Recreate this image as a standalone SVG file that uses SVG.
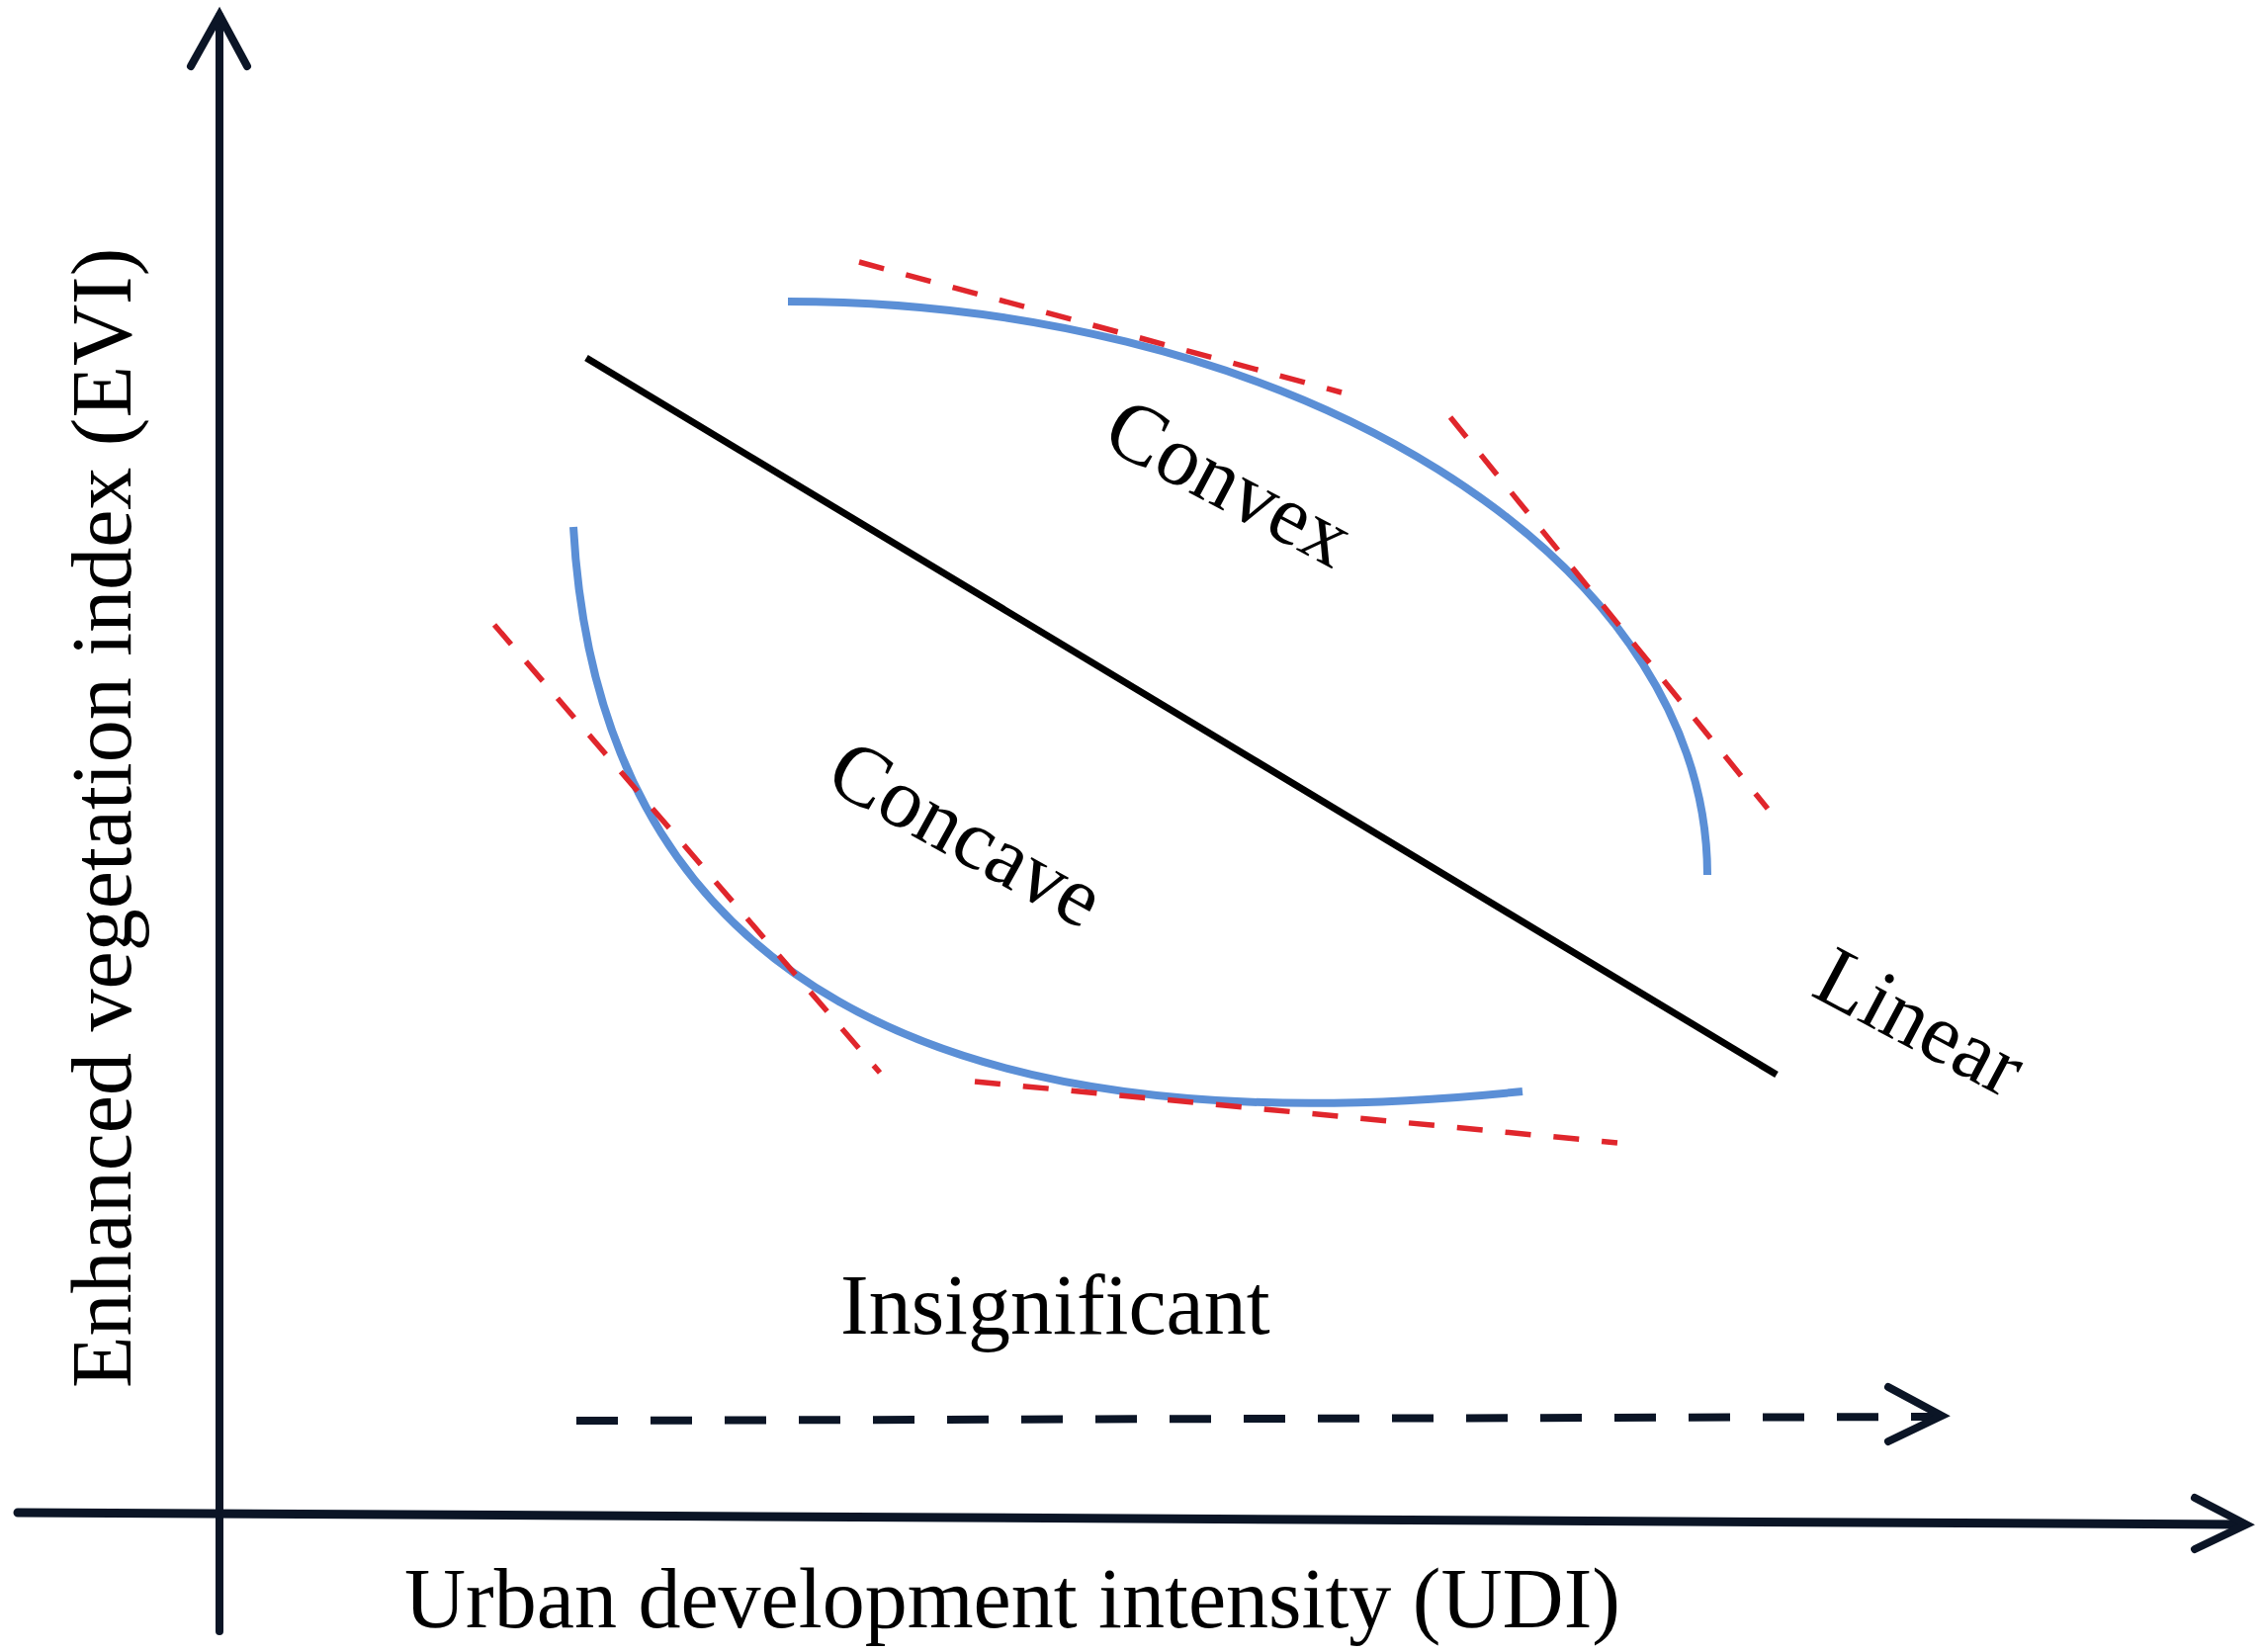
<svg xmlns="http://www.w3.org/2000/svg" width="2287" height="1671" viewBox="0 0 2287 1671">
<style>
.axis{stroke:#0b1526;stroke-width:8;fill:none;stroke-linecap:round;stroke-linejoin:round}
.blue{stroke:#5b8fd6;stroke-width:8;fill:none;stroke-linecap:butt}
.red{stroke:#e0262c;stroke-width:5.5;fill:none;stroke-dasharray:26 23}
.lin{stroke:#000;stroke-width:7;fill:none}
.dash{stroke:#0b1526;stroke-width:8;fill:none;stroke-dasharray:42 33}
.head{stroke:#0b1526;stroke-width:8;fill:none;stroke-linecap:round;stroke-linejoin:miter}
text{font-family:"Liberation Serif","Times New Roman",serif;font-size:86px;fill:#000}
</style>
<rect width="2287" height="1671" fill="#fff"/>
<g id="axes">
  <line class="axis" x1="222" y1="1650" x2="222" y2="16"/>
  <polyline class="head" points="193,67 222,15 250,67"/>
  <line class="axis" x1="18" y1="1530" x2="2268" y2="1542" style="stroke-width:9"/>
  <polyline class="head" points="2220,1515 2272,1542 2220,1567"/>
</g>
<g id="connectors">
  <path id="convex-curve" class="blue" d="M797,305 A930,580 0 0 1 1727,885"/>
  <path id="concave-curve" class="blue" d="M580,533 C605,990 950,1165 1540,1104"/>
  <line class="red" x1="869" y1="265" x2="1357" y2="397"/>
  <line class="red" x1="1467" y1="422" x2="1788" y2="818"/>
  <line class="red" x1="500" y1="632" x2="890" y2="1085"/>
  <line class="red" x1="986" y1="1094" x2="1636" y2="1156"/>
  <line id="linear-line" class="lin" x1="593" y1="362" x2="1797" y2="1087"/>
  <line class="dash" x1="583" y1="1437" x2="1958" y2="1433"/>
  <polyline class="head" points="1910,1403 1964,1432 1910,1458"/>
</g>
<g id="label-convex"><text transform="translate(1112,450) rotate(28)">Convex</text></g>
<g id="label-concave"><text transform="translate(832,795) rotate(29)">Concave</text></g>
<g id="label-linear"><text transform="translate(1830,1006) rotate(28)">Linear</text></g>
<g id="label-insignificant"><text x="850" y="1349">Insignificant</text></g>
<g id="label-x"><text x="409" y="1646">Urban development intensity (UDI)</text></g>
<g id="label-y"><text transform="translate(132,1404) rotate(-90)">Enhanced vegetation index (EVI)</text></g>
</svg>
